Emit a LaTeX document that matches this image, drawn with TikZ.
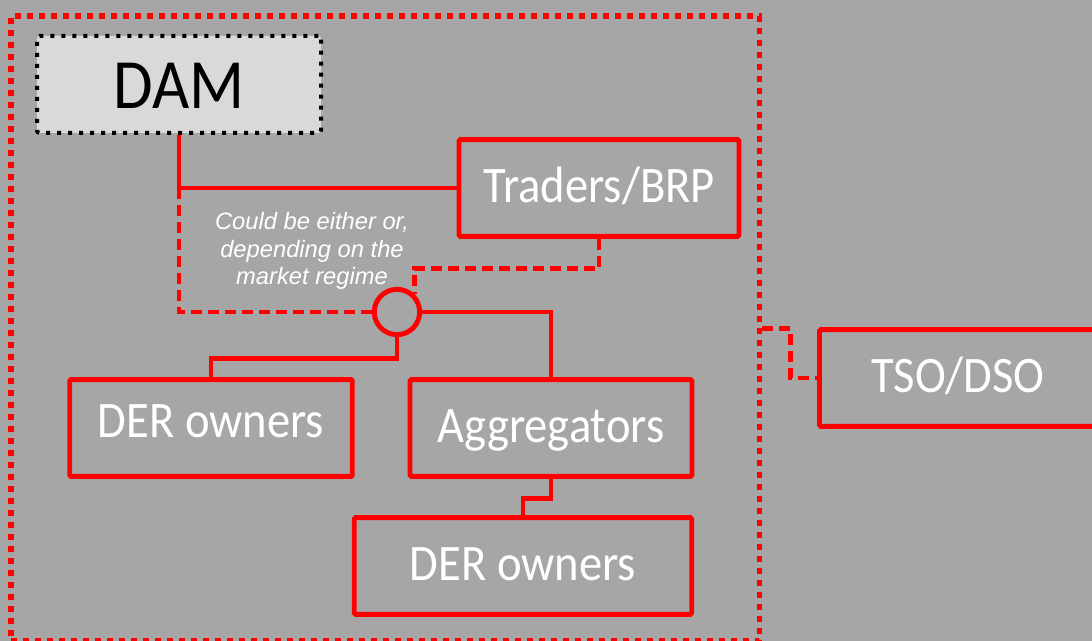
\documentclass[tikz,border=0pt]{standalone}
\usepackage{fontspec}
\setmainfont{Carlito}[FakeStretch=0.91]
\newfontfamily\notefont{Liberation Sans}
\definecolor{bggray}{HTML}{A6A6A6}
\definecolor{damgray}{HTML}{D9D9D9}

\begin{document}
\begin{tikzpicture}[x=.75pt, y=-.75pt,
        box/.style={draw=red, line width=3.7pt, rounded corners=1pt, minimum height=72.5pt, inner sep=0pt,
            text=white, font=\fontsize{38.4}{40}\selectfont, text height=24.7pt, text depth=3pt},
        link/.style={draw=red, line width=3.7pt},
        maybe/.style={link, dash pattern=on 8.25pt off 4.5pt}]

        \clip(0, 0) rectangle (1092, 641);
        \fill[bggray](0, 0) rectangle (1092, 641);

        \node[draw=red, line width=4.1pt, dash pattern=on 4.5pt off 4.5pt,
            minimum width=561.4pt, minimum height=468.75pt] (mkt) at(385.25, 328.5){};

        \node[draw, line width=3pt, dash pattern=on 3pt off 5.25pt, fill=damgray, rounded corners=2pt,
            minimum width=213pt, minimum height=72.75pt, inner sep=0pt,
            font=\fontsize{53}{56}\selectfont, text height=36.4pt, text depth=0pt] (dam) at(179, 84.5){DAM};

        \node[box, minimum width=210pt] (trd) at(599, 188){Traders/BRP};
        \node[draw=red, line width=3.7pt, circle, minimum size=34pt, inner sep=0pt] (hub) at(397, 312){};
        \node[box, minimum width=211.9pt, text depth=10.5pt] (der1) at(211, 428){DER owners};
        \node[box, minimum width=211.5pt] (agg) at(551, 428){Aggregators};
        \node[box, minimum width=253.1pt] (der2) at(523, 566){DER owners};
        \node[box, minimum width=207.75pt] (tso) at(958, 378){TSO/DSO};

        \node[text=white, align=center, font=\notefont\itshape\fontsize{17.8}{20.6}\selectfont] (note) at(312, 251)
            {Could be either or,\\depending on the\\market regime};

        \draw[link](dam.south) |- (trd.west);
        \draw[maybe](dam.south |- trd.west) |- (hub.west);
        \draw[maybe](trd.south) -- ++(0, 30) -| (hub.47);
        \draw[link](hub.east) -| (agg.north);
        \draw[link](hub.south) -- ++(0, 21) -| (der1.north);
        \draw[link](agg.south) -- ++(0, 20) -| (der2.north);
        \draw[maybe](mkt.east) -- ++(28, 0) |- (tso.west);

\end{tikzpicture}
\end{document}
